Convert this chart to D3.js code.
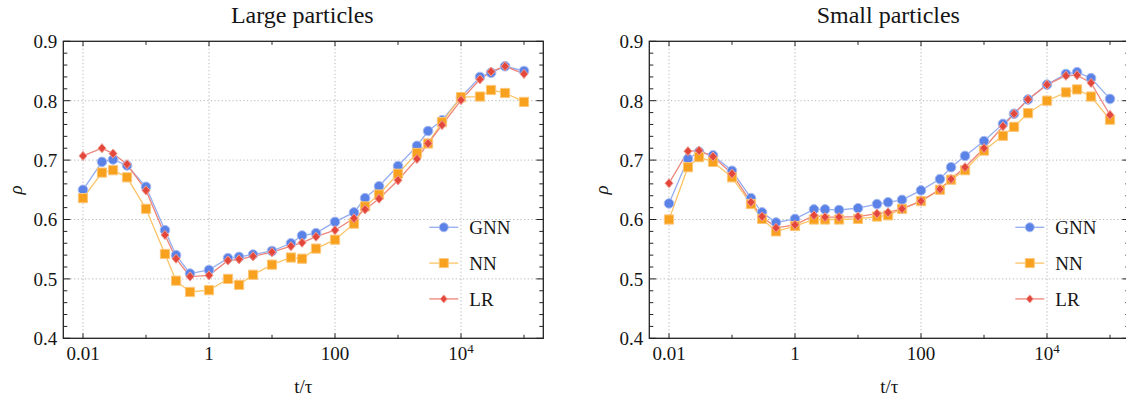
<!DOCTYPE html>
<html>
<head>
<meta charset="utf-8">
<script src="https://cdn.jsdelivr.net/npm/d3@7"></script>
<style>
  html, body { margin: 0; padding: 0; background: #fff; }
  svg { display: block; }
  text { font-family: "Liberation Serif", "Times New Roman", Times, serif; fill: #151515; }
</style>
</head>
<body>
<svg id="chart" width="1126" height="403"></svg>
<script>
// ---------- data ----------
const tValues = [0.01,0.02,0.03,0.05,0.1,0.2,0.3,0.5,1,2,3,5,10,20,30,50,100,200,300,500,1000,2000,3000,5000,1e4,2e4,3e4,5e4,1e5];

const largeGNN = [0.650,0.697,0.701,0.691,0.655,0.582,0.540,0.509,0.515,0.535,0.537,0.541,0.547,0.560,0.573,0.577,0.596,0.612,0.636,0.656,0.690,0.724,0.749,0.767,0.806,0.840,0.847,0.858,0.850];
const largeNN  = [0.636,0.679,0.683,0.671,0.618,0.542,0.497,0.478,0.481,0.500,0.490,0.507,0.524,0.536,0.534,0.551,0.566,0.593,0.622,0.642,0.677,0.712,0.728,0.764,0.806,0.807,0.818,0.813,0.798];
const largeLR  = [0.707,0.720,0.711,0.693,0.649,0.574,0.534,0.504,0.506,0.531,0.533,0.538,0.545,0.555,0.561,0.571,0.582,0.602,0.617,0.635,0.666,0.702,0.728,0.759,0.801,0.836,0.849,0.858,0.845];

const smallGNN = [0.627,0.702,0.714,0.708,0.682,0.636,0.612,0.595,0.601,0.617,0.617,0.616,0.619,0.626,0.629,0.633,0.649,0.668,0.688,0.707,0.732,0.761,0.778,0.802,0.827,0.845,0.848,0.838,0.803];
const smallNN  = [0.600,0.688,0.705,0.697,0.671,0.626,0.601,0.580,0.589,0.600,0.600,0.600,0.601,0.605,0.607,0.618,0.631,0.650,0.667,0.683,0.716,0.741,0.756,0.779,0.800,0.814,0.819,0.807,0.768];
const smallLR  = [0.661,0.715,0.716,0.706,0.677,0.629,0.605,0.586,0.591,0.607,0.604,0.604,0.605,0.610,0.612,0.618,0.631,0.651,0.668,0.688,0.720,0.757,0.778,0.802,0.827,0.842,0.843,0.830,0.776];

const seriesNames = ["GNN","NN","LR"];
const panelTitles = ["Large particles","Small particles"];
const xTickValues = [0.01,1,100,1e4];
const xTickLabels = [["0.01",null],["1",null],["100",null],["10","4"]];
const yTickValues = [0.4,0.5,0.6,0.7,0.8,0.9];
const yTickLabels = ["0.4","0.5","0.6","0.7","0.8","0.9"];
const xTitle = "t/\u03C4";
const yTitle = "\u03C1";

// ---------- styling ----------
const colors = {GNN:"#5b82e6", NN:"#f8a11e", LR:"#e3473b"};
const lineColors = {GNN:"#94adf0", NN:"#fbc466", LR:"#ee8579"};
const haloColors = {GNN:"#a9bcf2", NN:"#fcc77a", LR:"#f19a90"};

const svg = d3.select("#chart");

const panelW = 480, topY = 41.3, bottomY = 338.3;
const panels = [
  {x0: 63.3, data: [largeGNN, largeNN, largeLR], title: panelTitles[0]},
  {x0: 649.3, data: [smallGNN, smallNN, smallLR], title: panelTitles[1]}
];

function markerPath(name, cx, cy) {
  if (name === "GNN") {
    const r = 4.8;
    return `M${cx-r},${cy}a${r},${r} 0 1,0 ${2*r},0a${r},${r} 0 1,0 ${-2*r},0Z`;
  } else if (name === "NN") {
    const h = 4.6;
    return `M${cx-h},${cy-h}h${2*h}v${2*h}h${-2*h}Z`;
  } else {
    const w = 4.0, h = 4.6;
    return `M${cx},${cy-h}L${cx+w},${cy}L${cx},${cy+h}L${cx-w},${cy}Z`;
  }
}
function legendMarker(name, cx, cy) {
  if (name === "GNN") { const r = 4.5; return `M${cx-r},${cy}a${r},${r} 0 1,0 ${2*r},0a${r},${r} 0 1,0 ${-2*r},0Z`; }
  if (name === "NN") { const h = 4.5; return `M${cx-h},${cy-h}h${2*h}v${2*h}h${-2*h}Z`; }
  const w = 3.5, h = 4; return `M${cx},${cy-h}L${cx+w},${cy}L${cx},${cy+h}L${cx-w},${cy}Z`;
}

panels.forEach(p => {
  const left = p.x0, right = p.x0 + panelW;
  // 0.01 sits 19.7px right of the frame, one decade = 63px
  const lo = -2 - 19.7/63, hi = lo + panelW/63;
  const x = d3.scaleLog().domain([Math.pow(10, lo), Math.pow(10, hi)]).range([left, right]);
  const y = d3.scaleLinear().domain([0.4, 0.9]).range([bottomY, topY]);

  const g = svg.append("g");

  // grid
  g.append("g").selectAll("line").data(xTickValues).join("line")
    .attr("x1", d => x(d)).attr("x2", d => x(d)).attr("y1", topY).attr("y2", bottomY)
    .attr("stroke", "#b5b5b5").attr("stroke-width", 1).attr("stroke-dasharray", "1.2,2.4");
  g.append("g").selectAll("line").data([0.5,0.6,0.7,0.8]).join("line")
    .attr("x1", left).attr("x2", right).attr("y1", d => y(d)).attr("y2", d => y(d))
    .attr("stroke", "#b5b5b5").attr("stroke-width", 1).attr("stroke-dasharray", "1.2,2.4");

  // lines
  const line = d3.line().x((d, i) => x(tValues[i])).y(d => y(d));
  p.data.forEach((vals, k) => {
    const name = seriesNames[k];
    g.append("path").datum(vals).attr("d", line)
      .attr("fill", "none").attr("stroke", lineColors[name]).attr("stroke-width", 1.3);
  });
  // markers
  p.data.forEach((vals, k) => {
    const name = seriesNames[k];
    g.append("g").selectAll("path").data(vals).join("path")
      .attr("d", (d, i) => markerPath(name, x(tValues[i]), y(d)))
      .attr("fill", colors[name]).attr("stroke", haloColors[name]).attr("stroke-width", 1);
  });

  // frame
  g.append("rect").attr("x", left).attr("y", topY).attr("width", panelW).attr("height", bottomY - topY)
    .attr("fill", "none").attr("stroke", "#222").attr("stroke-width", 1.3);

  // x ticks (decades)
  const decades = d3.range(-2, 6).map(e => Math.pow(10, e));
  decades.forEach((d, i) => {
    const len = (i % 2 === 0) ? 5 : 3.5;
    g.append("line").attr("x1", x(d)).attr("x2", x(d)).attr("y1", bottomY).attr("y2", bottomY - len).attr("stroke", "#222");
    g.append("line").attr("x1", x(d)).attr("x2", x(d)).attr("y1", topY).attr("y2", topY + len).attr("stroke", "#222");
  });
  // y ticks every 0.02
  d3.range(0, 26).forEach(i => {
    const v = 0.4 + i * 0.02;
    const len = (i % 5 === 0) ? 7 : 4;
    g.append("line").attr("x1", left).attr("x2", left + len).attr("y1", y(v)).attr("y2", y(v)).attr("stroke", "#222");
    g.append("line").attr("x1", right).attr("x2", right - len).attr("y1", y(v)).attr("y2", y(v)).attr("stroke", "#222");
  });

  // y tick labels
  g.append("g").selectAll("text").data(yTickValues).join("text")
    .attr("x", left - 6).attr("y", d => y(d)).attr("dy", "0.36em")
    .attr("text-anchor", "end").attr("font-size", 19)
    .text((d, i) => yTickLabels[i]);

  // x tick labels
  xTickValues.forEach((d, i) => {
    const t = g.append("text").attr("x", x(d)).attr("y", 360)
      .attr("text-anchor", "middle").attr("font-size", 19);
    t.append("tspan").text(xTickLabels[i][0]);
    if (xTickLabels[i][1]) {
      t.append("tspan").attr("dy", -7).attr("font-size", 13).text(xTickLabels[i][1]);
    }
  });

  // axis titles
  g.append("text").attr("x", left + panelW/2).attr("y", 393).attr("text-anchor", "middle")
    .attr("font-size", 19).text(xTitle);
  g.append("text").attr("transform", `translate(${left - 41},190) rotate(-90)`)
    .attr("text-anchor", "middle").attr("font-size", 19).attr("font-style", "italic").text(yTitle);

  // panel title
  g.append("text").attr("x", left + panelW/2 - 1).attr("y", 23).attr("text-anchor", "middle")
    .attr("font-size", 24).text(p.title);

  // legend
  const lx = right - 114, ly0 = 227.3, step = 35.8;
  seriesNames.forEach((name, k) => {
    const yy = ly0 + k * step;
    g.append("line").attr("x1", lx).attr("x2", lx + 29).attr("y1", yy).attr("y2", yy)
      .attr("stroke", lineColors[name]).attr("stroke-width", 1.3);
    g.append("path").attr("d", legendMarker(name, lx + 14.5, yy))
      .attr("fill", colors[name]).attr("stroke", haloColors[name]).attr("stroke-width", 1);
    g.append("text").attr("x", lx + 40).attr("y", yy).attr("dy", "0.35em")
      .attr("font-size", 19).text(name);
  });
});
</script>
</body>
</html>
